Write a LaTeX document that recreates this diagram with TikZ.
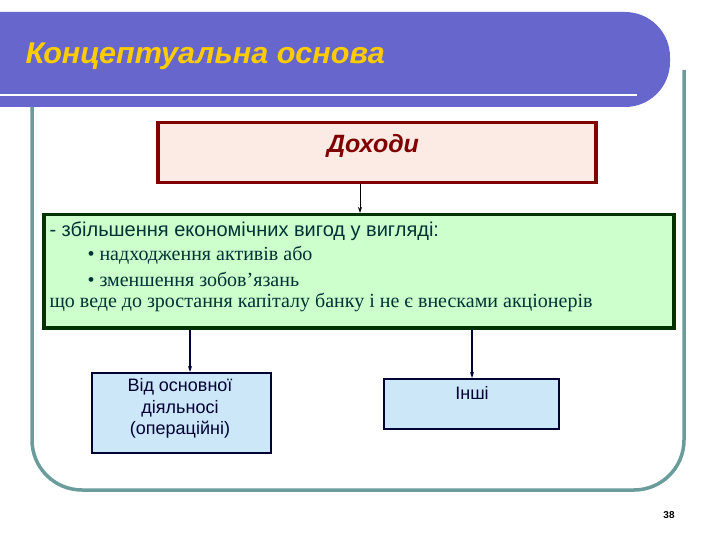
\documentclass[tikz,border=0pt]{standalone}
\usepackage{fontspec}
\setmainfont{Liberation Serif}
\newfontfamily\arial{Liberation Sans}
\usetikzlibrary{arrows.meta}
\definecolor{frame}{HTML}{6A9C9C}
\definecolor{banner}{HTML}{6666CC}
\definecolor{ttl}{HTML}{FFCC00}
\definecolor{dred}{HTML}{800000}
\definecolor{pinkf}{HTML}{FCEBE4}
\definecolor{greenf}{HTML}{CCFFCC}
\definecolor{dgreen}{HTML}{003300}
\definecolor{gtext}{HTML}{003333}
\definecolor{bluef}{HTML}{CCE8F8}
\definecolor{navy}{HTML}{000033}
\begin{document}
\begin{tikzpicture}[x=1pt,y=-1pt,
  conn/.style={draw=navy,line width=1.2pt,-{Stealth[length=6pt,width=4pt]}},
  bluebox/.style={draw=navy,line width=1.6pt,fill=bluef,anchor=north west,inner sep=0pt}]
\useasboundingbox (0,0) rectangle (720,540);
\fill[white] (0,0) rectangle (720,540);
% frame
\draw[frame,line width=3.5pt,rounded corners=50pt] (32,70) -- (32,490) -- (684,490) -- (684,70);
% banner
\fill[banner,rounded corners=45pt] (-50,12) rectangle (670,107);
\fill[banner] (0,12) rectangle (100,107);
\draw[white,line width=1.2pt] (0,95) -- (637,95);
\node[anchor=west,text=ttl,font=\arial\bfseries\itshape\fontsize{30}{34}\selectfont,xscale=1.02] (title) at (22,56) {Концептуальна основа};
% Доходи
\node[draw=dred,line width=3.5pt,fill=pinkf,minimum width=438pt,minimum height=60pt,anchor=north west,inner sep=0pt] (doh) at (156,121) {};
\node[text=dred,font=\arial\bfseries\itshape\fontsize{25}{28}\selectfont] (dohl) at (373,146) {Доходи};
% green
\node[draw=dgreen,line width=3.5pt,fill=greenf,minimum width=630pt,minimum height=113pt,anchor=north west,inner sep=0pt] (grn) at (42,213) {};
\node[anchor=west,text=gtext,font=\arial\fontsize{20}{24}\selectfont] (g1) at (46,231) {- збільшення економічних вигод у вигляді:};
\node[anchor=west,text=gtext,font=\fontsize{20}{24}\selectfont] (g2) at (84,255) {• надходження активів або};
\node[anchor=west,text=gtext,font=\fontsize{20}{24}\selectfont] (g3) at (84,279) {• зменшення зобов’язань};
\node[anchor=west,text=gtext,font=\fontsize{20}{24}\selectfont] (g4) at (46,302) {що веде до зростання капіталу банку і не є внесками акціонерів};
% blue boxes
\node[bluebox,minimum width=179pt,minimum height=80pt] (b1) at (91,372) {};
\node[text=navy,font=\arial\fontsize{18}{21.5}\selectfont,align=center,anchor=north] (b1t) at (180,375) {Від основної\\діяльносі\\(операційні)};
\node[bluebox,minimum width=175pt,minimum height=50pt] (b2) at (383,378) {};
\node[text=navy,font=\arial\fontsize{18}{21}\selectfont] (b2t) at (472,393) {Інші};
% connectors
\draw[conn,draw=black,line width=1pt] (doh.south -| 360,0) -- (grn.north -| 360,0);
\draw[conn] (grn.south -| 190,0) -- (b1.north -| 190,0);
\draw[conn] (grn.south -| 472,0) -- (b2.north -| 472,0);
\node[font=\arial\bfseries\fontsize{10}{12}\selectfont] (pg) at (669,515) {38};
\end{tikzpicture}
\end{document}
